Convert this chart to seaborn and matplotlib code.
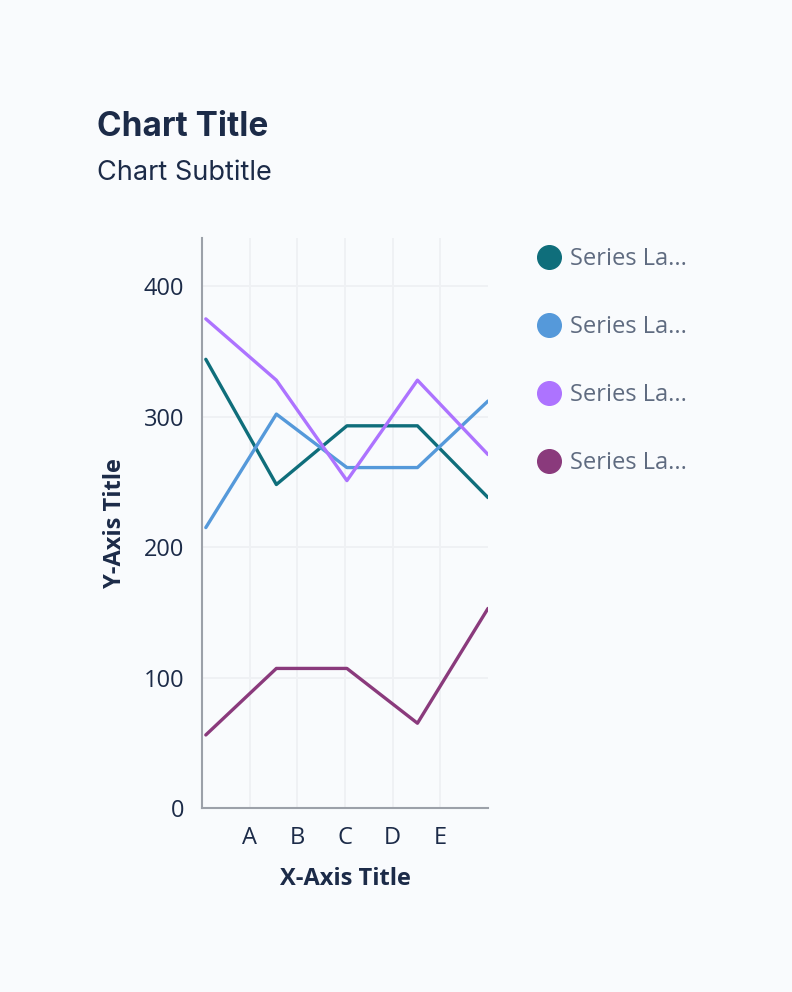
import numpy as np
import pandas as pd
import matplotlib
matplotlib.use("Agg")
import matplotlib.pyplot as plt
from matplotlib.lines import Line2D
import seaborn as sns

# ---- data ----
categories = ["A", "B", "C", "D", "E"]
series_names = ["Series 1", "Series 2", "Series 3", "Series 4"]
legend_labels = ["Series La...", "Series La...", "Series La...", "Series La..."]
teal_values = [344, 248, 293, 293, 238]
blue_values = [215, 302, 261, 261, 312]
violet_values = [375, 328, 251, 328, 271]
plum_values = [56, 107, 107, 65, 153]
colors = ["#0f6e7b", "#5599da", "#ad73ff", "#8a3a7c"]

all_values = [teal_values, blue_values, violet_values, plum_values]
# data points are spread across the full plot width (independent of the category ticks)
x_pos = np.linspace(0.08, 6.0, len(categories))
rows = []
for name, vals in zip(series_names, all_values):
    for xp, v in zip(x_pos, vals):
        rows.append({"x": xp, "value": v, "series": name})
df = pd.DataFrame(rows)

sns.set_theme(style="white")
plt.rcParams["font.family"] = ["Open Sans", "DejaVu Sans"]

bg = "#f9fbfd"
navy = "#1c2b48"
fig = plt.figure(figsize=(7.92, 9.92), dpi=100, facecolor=bg)
W, H = 792, 992
ax = fig.add_axes([202 / W, (H - 808) / H, (488 - 202) / W, (808 - 238) / H])
ax.set_facecolor(bg)

sns.lineplot(data=df, x="x", y="value", hue="series", palette=colors,
             linewidth=2.4, ax=ax, legend=False, sort=False)

ax.set_xlim(0, 6)
ax.set_ylim(0, 437)
ax.set_xticks(range(1, len(categories) + 1))
ax.set_xticklabels(categories)
ax.set_yticks([0, 100, 200, 300, 400])
ax.tick_params(axis="both", length=0, labelsize=17, labelcolor=navy)
ax.tick_params(axis="y", pad=13)
ax.tick_params(axis="x", pad=13)
ax.grid(True, color="#eff1f4", linewidth=1.3)
for s in ["top", "right"]:
    ax.spines[s].set_visible(False)
for s in ["left", "bottom"]:
    ax.spines[s].set_color("#9ca1a9")
    ax.spines[s].set_linewidth(1.5)

ax.set_xlabel("X-Axis Title", fontsize=17, fontweight="bold", color=navy, labelpad=12)
ax.set_ylabel("Y-Axis Title", fontsize=17, fontweight="bold", color=navy, labelpad=12)

fig.text(97 / W, 1 - 136 / H, "Chart Title", fontsize=24, fontweight="bold",
         color=navy, family=["Inter", "DejaVu Sans"])
fig.text(97 / W, 1 - 180 / H, "Chart Subtitle", fontsize=19.5,
         color=navy, family=["Inter", "DejaVu Sans"])

handles = [Line2D([0], [0], marker="o", linestyle="none", markersize=17,
                  markerfacecolor=c, markeredgecolor=c) for c in colors]
leg = fig.legend(handles, legend_labels, loc="upper left",
                 bbox_to_anchor=(528 / W, 1 - 238 / H), frameon=False,
                 fontsize=17, labelcolor="#5f6b80", handlelength=1.0,
                 handletextpad=0.4, labelspacing=1.86, borderaxespad=0)

fig.savefig("out.png", dpi=100, facecolor=bg)
